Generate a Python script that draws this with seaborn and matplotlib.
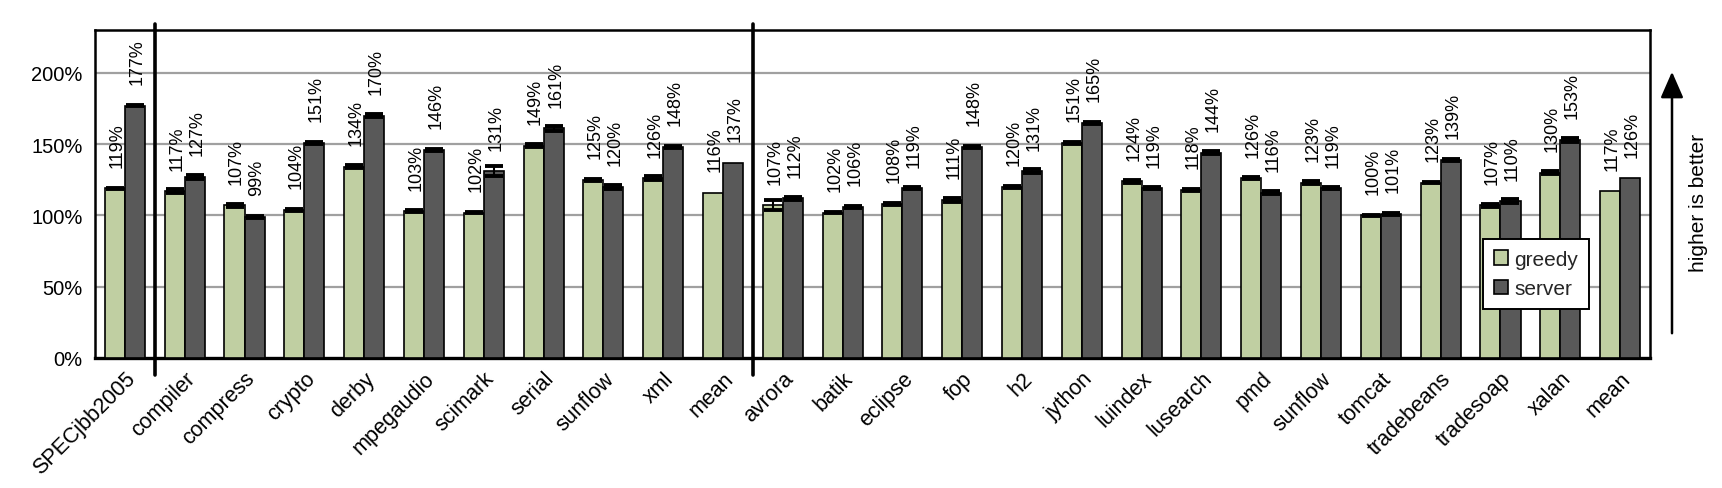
import numpy as np
import pandas as pd
import matplotlib
matplotlib.use('Agg')
import matplotlib.pyplot as plt
import seaborn as sns

# ============ Data ============
benchmarks = ['SPECjbb2005', 'compiler', 'compress', 'crypto', 'derby', 'mpegaudio', 'scimark',
              'serial', 'sunflow', 'xml', 'mean', 'avrora', 'batik', 'eclipse', 'fop', 'h2',
              'jython', 'luindex', 'lusearch', 'pmd', 'sunflow', 'tomcat', 'tradebeans',
              'tradesoap', 'xalan', 'mean']
greedy = [119, 117, 107, 104, 134, 103, 102, 149, 125, 126, 116, 107, 102, 108, 111, 120,
          151, 124, 118, 126, 123, 100, 123, 107, 130, 117]
server = [177, 127, 99, 151, 170, 146, 131, 161, 120, 148, 137, 112, 106, 119, 148, 131,
          165, 119, 144, 116, 119, 101, 139, 110, 153, 126]
greedy_err = [0.5, 1.2, 0.8, 0.6, 1.0, 0.6, 0.6, 0.8, 0.6, 1.5, 0, 3.5, 0.5, 0.6, 1.5, 0.8,
              0.8, 1.0, 0.8, 0.7, 1.0, 0.6, 0.6, 0.8, 0.8, 0]
server_err = [0.6, 1.5, 0.8, 0.8, 1.0, 0.6, 3.5, 1.5, 1.2, 1.0, 0, 1.2, 0.6, 0.6, 1.0, 1.5,
              0.8, 0.8, 1.2, 1.2, 0.8, 0.6, 0.6, 1.5, 1.5, 0]
yticks = [0, 50, 100, 150, 200]
separators_after = [0, 10]

n = len(benchmarks)
df = pd.DataFrame({
    'bench_id': list(range(n)) * 2,
    'config': ['greedy'] * n + ['server'] * n,
    'speedup': greedy + server,
})

# ============ Plot ============
sns.set_theme(style='white')
plt.rcParams['font.family'] = ['Liberation Sans', 'DejaVu Sans']

fig = plt.figure(figsize=(17.22, 4.89), dpi=100)
ax = fig.add_axes([95 / 1722, 1 - 359 / 489, 1555 / 1722, 328 / 489])

for y in yticks[1:]:
    ax.axhline(y, color='#a0a0a0', lw=1.6, zorder=0)

sns.barplot(data=df, x='bench_id', y='speedup', hue='config', order=range(n),
            palette={'greedy': '#c3d69b', 'server': '#595959'}, width=0.67,
            edgecolor='black', linewidth=1.2, errorbar=None, ax=ax, zorder=3)

# error bars and value labels
for cont, vals, errs in zip(ax.containers, [greedy, server], [greedy_err, server_err]):
    for bar, v, e in zip(cont, vals, errs):
        xc = bar.get_x() + bar.get_width() / 2
        if e > 0:
            ax.errorbar(xc, bar.get_height(), yerr=e, fmt='none', ecolor='black',
                        elinewidth=1.5, capsize=6.8, capthick=2.8, zorder=4)
        ax.annotate(f'{v}%', (xc, bar.get_height()), xytext=(1.5, 15.5),
                    textcoords='offset points', rotation=90, ha='center', va='bottom',
                    fontsize=13, color='black')

# thick group separators
for s in separators_after:
    ax.plot([s + 0.5, s + 0.5], [-0.052, 1.018], color='black', lw=2.6,
            transform=ax.get_xaxis_transform(), clip_on=False, zorder=5)

ax.set_xlim(-0.5, n - 0.5)
ax.set_ylim(0, 230)
ax.set_yticks(yticks)
ax.set_yticklabels([f'{t}%' for t in yticks], fontsize=14.5)
ax.set_xticks(range(n))
ax.set_xticklabels(benchmarks, rotation=45, ha='right', rotation_mode='anchor', fontsize=15.5)
ax.set_xticks(np.arange(-0.5, n), minor=True)
ax.tick_params(axis='x', which='major', length=0, pad=7)
ax.tick_params(axis='x', which='minor', length=5, width=2, color='black', direction='out')
ax.tick_params(axis='y', length=6, width=1.8, color='black', direction='out', pad=3)
ax.tick_params(colors='black')
ax.set_xlabel('')
ax.set_ylabel('')
for sp in ax.spines.values():
    sp.set_color('black')
    sp.set_linewidth(1.8)
ax.spines['bottom'].set_linewidth(2.4)

handles, labels = ax.get_legend_handles_labels()
ax.legend(handles, labels, loc='lower left', bbox_to_anchor=(0.886, 0.119), fontsize=15,
          frameon=True, fancybox=False, edgecolor='black', framealpha=1, handlelength=0.7,
          handleheight=0.7, handletextpad=0.3, labelspacing=0.5, borderpad=0.5)
ax.get_legend().get_frame().set_linewidth(1.4)

# "higher is better" arrow
fig.add_artist(matplotlib.patches.FancyArrowPatch(
    (1672 / 1722, 1 - 337 / 489), (1672 / 1722, 1 - 70 / 489), transform=fig.transFigure,
    arrowstyle='-|>,head_length=0.8,head_width=0.35', mutation_scale=20, color='black', lw=1.8))
fig.text(1698 / 1722, 1 - 203 / 489, 'higher is better', rotation=90, ha='center', va='center',
         fontsize=15, color='black')

fig.savefig('out.png', dpi=100)
